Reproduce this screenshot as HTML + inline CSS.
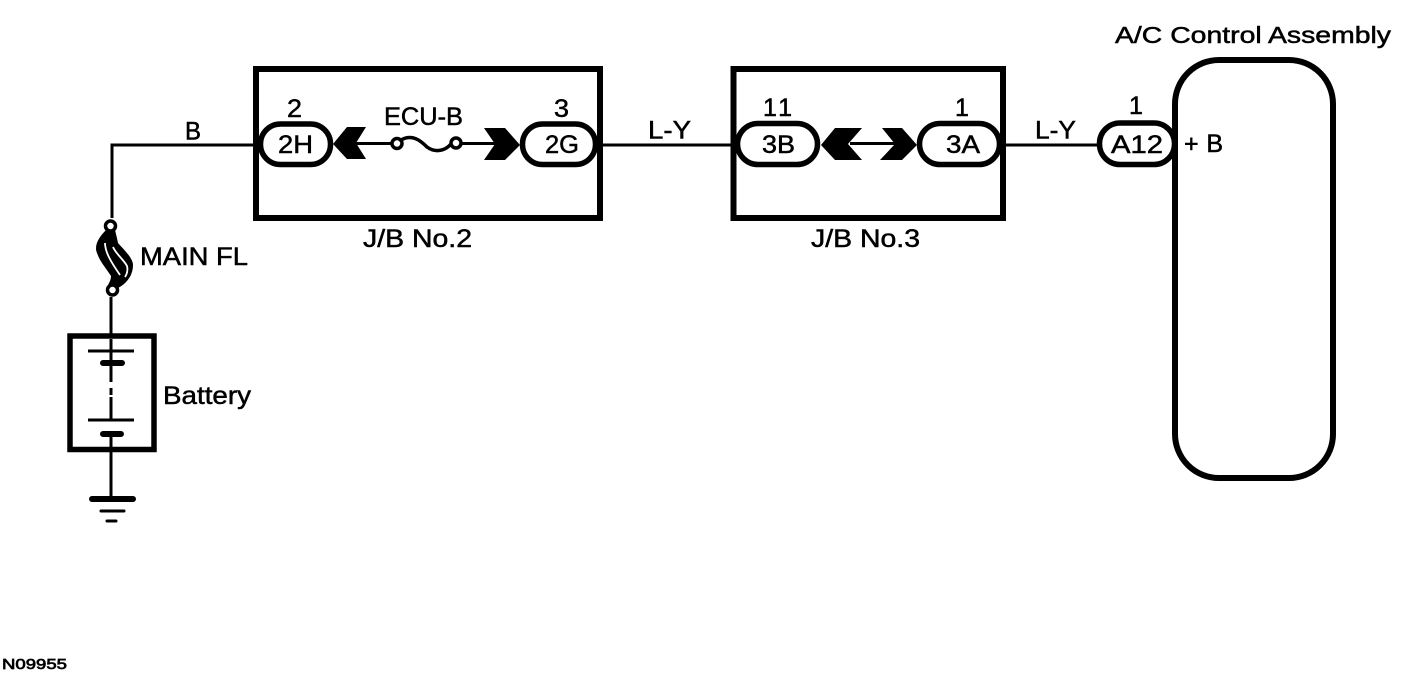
<!DOCTYPE html>
<html>
<head>
<meta charset="utf-8">
<style>
html,body{margin:0;padding:0;background:#fff;width:1408px;height:688px;overflow:hidden}
svg{display:block}
text{font-family:"Liberation Sans",sans-serif;font-size:25px;fill:#000;stroke:#000;stroke-width:.5}
</style>
</head>
<body>
<svg width="1408" height="688" viewBox="0 0 1408 688" xmlns="http://www.w3.org/2000/svg">
<rect width="1408" height="688" fill="#fff"/>

<!-- wires -->
<g fill="none" stroke="#000" stroke-width="3">
  <path d="M112 218V145H258"/>
  <path d="M600 145H735"/>
  <path d="M1003 145H1097"/>
  <path d="M111 297V336"/>
  <path d="M111 339V363M111 363V382M111 388V395M111 397V420M111 434V497"/>
  <path d="M355 143.500H392M461 143.500H500"/>
  <path d="M850 143.500H895"/>
  <path d="M88 351H134M88 420H134" stroke-width="3"/>
</g>

<!-- boxes -->
<g fill="none" stroke="#000" stroke-width="6">
  <rect x="256" y="69" width="344" height="149"/>
  <rect x="733.500" y="69" width="269.500" height="149"/>
  <rect x="70" y="336" width="84" height="113.500" stroke-width="5.500"/>
  <rect x="1175" y="60" width="158" height="418" rx="44" ry="44"/>
</g>

<!-- battery plates and ground -->
<g fill="none" stroke="#000" stroke-linecap="round">
  <path d="M103 363H122M103 434H121" stroke-width="6"/>
  <path d="M92 499H133" stroke-width="6"/>
  <path d="M101 511H124" stroke-width="3"/>
  <path d="M107 521H116" stroke-width="3"/>
</g>

<!-- pills -->
<g fill="#fff" stroke="#000" stroke-width="5.500">
  <rect x="260.500" y="124" width="70" height="40.500" rx="20" ry="20"/>
  <rect x="522.500" y="124" width="73" height="40.500" rx="20" ry="20"/>
  <rect x="737.500" y="123.500" width="80" height="41" rx="20.500" ry="20.500"/>
  <rect x="919.500" y="123.500" width="80" height="41" rx="20.500" ry="20.500"/>
  <rect x="1099.500" y="123" width="75" height="41.500" rx="20.500" ry="20.500"/>
</g>

<!-- chevrons -->
<g fill="#000">
  <path d="M333 144L347 127H366L356 143L366 159H347Z"/>
  <path d="M520 145L505 128H484L495 144L484 160H505Z"/>
  <path d="M821 145L835 128H862L848 144L862 160H835Z"/>
  <path d="M917 145L902 128H882L895 144L880 160H902Z"/>
</g>

<!-- ECU-B fuse -->
<g fill="#fff" stroke="#000" stroke-width="3.500">
  <path d="M401 140C412 134 420 140 427 147C435 153 445 151 451 144" fill="none"/>
  <circle cx="397" cy="143.500" r="5"/>
  <circle cx="456" cy="143" r="5"/>
</g>

<!-- MAIN FL fuse -->
<path d="M106 230C98 238 94 246 97 253C100 262 106 268 111 276C111 280 109 283 108 285L118 288C126 284 133 276 133 265C133 258 124 250 118 243C117 238 116 234 115 230Z" fill="#000"/>
<g fill="none" stroke="#fff" stroke-width="1.800">
  <path d="M105 243C105 252 111 262 120 275"/>
  <path d="M113 247C116 254 124 260 127 266C128 270 127 274 125 277"/>
</g>
<g fill="#fff" stroke="#000" stroke-width="3.500">
  <circle cx="110.500" cy="226" r="5"/>
  <circle cx="112.500" cy="290" r="5"/>
</g>

<!-- labels -->
<text x="185" y="139.500" textLength="16" lengthAdjust="spacingAndGlyphs">B</text>
<text x="287" y="117" textLength="15" lengthAdjust="spacingAndGlyphs">2</text>
<text x="278" y="153" textLength="35" lengthAdjust="spacingAndGlyphs">2H</text>
<text x="384" y="125" textLength="79" lengthAdjust="spacingAndGlyphs">ECU-B</text>
<text x="554" y="117" textLength="15" lengthAdjust="spacingAndGlyphs">3</text>
<text x="545" y="153" textLength="34" lengthAdjust="spacingAndGlyphs">2G</text>
<text x="648" y="138.500" textLength="43" lengthAdjust="spacingAndGlyphs">L-Y</text>
<text x="1035" y="138.500" textLength="41" lengthAdjust="spacingAndGlyphs">L-Y</text>
<text x="140" y="265" textLength="108" lengthAdjust="spacingAndGlyphs">MAIN FL</text>
<text x="363" y="247" textLength="109" lengthAdjust="spacingAndGlyphs">J/B No.2</text>
<text x="811" y="247" textLength="109" lengthAdjust="spacingAndGlyphs">J/B No.3</text>
<text x="763" y="116" textLength="29" lengthAdjust="spacing">11</text>
<text x="955" y="116" textLength="13" lengthAdjust="spacing">1</text>
<text x="762" y="153" textLength="33" lengthAdjust="spacingAndGlyphs">3B</text>
<text x="946" y="153" textLength="34" lengthAdjust="spacingAndGlyphs">3A</text>
<text x="1129" y="114" textLength="13" lengthAdjust="spacing">1</text>
<text x="1111" y="153" textLength="52" lengthAdjust="spacingAndGlyphs">A12</text>
<text x="1184" y="152" textLength="39" lengthAdjust="spacing">+B</text>
<text x="163" y="404" textLength="88" lengthAdjust="spacingAndGlyphs">Battery</text>
<text x="1115" y="43" textLength="276" lengthAdjust="spacingAndGlyphs" style="font-size:23px">A/C Control Assembly</text>
<text x="2" y="669" textLength="65" lengthAdjust="spacingAndGlyphs" style="font-size:15px;stroke-width:.7">N09955</text>
</svg>
</body>
</html>
